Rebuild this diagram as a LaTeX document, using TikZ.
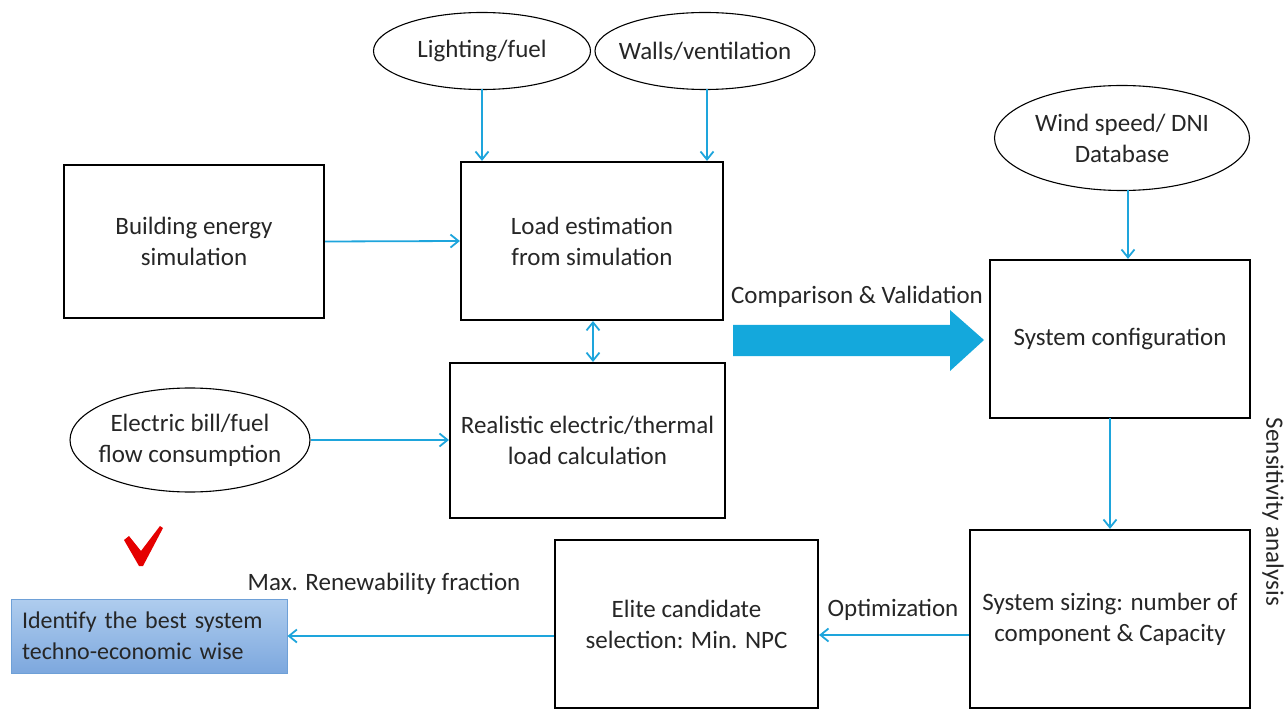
\documentclass[tikz,border=0pt]{standalone}
\usepackage{fontspec}
\setmainfont{Carlito}
\usetikzlibrary{shapes.geometric,arrows.meta}
\definecolor{arr}{RGB}{30,165,220}
\definecolor{bigarr}{RGB}{20,168,220}
\definecolor{bluetop}{RGB}{175,205,238}
\definecolor{bluebot}{RGB}{125,168,222}
\definecolor{blueedge}{RGB}{110,160,215}
\tikzset{
  box/.style={draw=black, line width=2.2pt, align=center, font=\fontsize{25}{31}\selectfont, inner sep=0pt, text=black!85},
  oval/.style={draw=black, ellipse, line width=1.1pt, align=center, font=\fontsize{25}{31}\selectfont, inner xsep=-60pt, inner ysep=-20pt, text=black!85},
  conn/.style={draw=arr, line width=1.8pt, -{Straight Barb[length=8pt,width=13pt,line width=1.8pt]}},
  lbl/.style={font=\fontsize{25}{31}\selectfont, inner sep=0pt, text=black!85},
}
\begin{document}
\begin{tikzpicture}[x=1pt,y=-1pt]
\useasboundingbox (0,0) rectangle (1288,711);
% ellipses
\node[oval, minimum width=217pt, minimum height=77pt] (light) at (482,51) {Lighting/fuel};
\node[oval, minimum width=220pt, minimum height=77pt] (walls) at (705,51) {Walls/ventilation};
\node[oval, minimum width=255pt, minimum height=105pt] (wind) at (1122,138) {Wind speed/ DNI\\Database};
\node[oval, minimum width=240pt, minimum height=104pt] (bill) at (190,440) {Electric bill/fuel\\flow consumption};
% boxes
\node[box, minimum width=262pt, minimum height=158pt] (load) at (592,241) {Load estimation\\from simulation};
\node[box, minimum width=260pt, minimum height=153pt] (bes) at (194,241.5) {Building energy\\simulation};
\node[box, minimum width=275pt, minimum height=155pt] (real) at (587.5,440.5) {Realistic electric/thermal\\load calculation};
\node[box, minimum width=260pt, minimum height=158pt] (conf) at (1120,339) {System configuration};
\node[box, minimum width=280pt, minimum height=178pt] (size) at (1110,619) {System sizing: number of\\component \& Capacity};
\node[box, minimum width=263pt, minimum height=168pt] (elite) at (686.5,624) {Elite candidate\\selection: Min. NPC};
\node[draw=blueedge, line width=1pt, top color=bluetop, bottom color=bluebot, minimum width=276pt, minimum height=74pt, inner xsep=11pt, inner ysep=0pt, text width=254pt, align=left, font=\fontsize{24}{31}\selectfont, text=black!85] (best) at (149,636) {Identify the best system\\techno-economic wise};
% connectors
\coordinate (l1) at (482,89.5);
\coordinate (w1) at (707,89.5);
\draw[conn] (l1) -- (l1 |- load.north);
\draw[conn] (w1) -- (w1 |- load.north);
\draw[conn] (bes.east) -- (load.west);
\draw[conn] (bill.east) -- (real.west |- bill.east);
\coordinate (d1) at (593,321);
\coordinate (d2) at (593,362);
\draw[draw=arr, line width=1.8pt, {Straight Barb[length=8pt,width=13pt,line width=1.8pt]}-{Straight Barb[length=8pt,width=13pt,line width=1.8pt]}] (d1) -- (d2);
\coordinate (wd) at (1128,190.5);
\draw[conn] (wd) -- (wd |- conf.north);
\coordinate (cs) at (1110,418);
\draw[conn] (cs) -- (cs |- size.north);
\coordinate (so) at (size.west |- 0,635);
\draw[conn] (so) -- (so -| elite.east);
\coordinate (eo) at (elite.west |- 0,636);
\draw[conn] (eo) -- (eo -| best.east);
% big arrow
\fill[bigarr] (733,325) -- (950,325) -- (950,310) -- (984,340) -- (950,371) -- (950,356) -- (733,356) -- cycle;
% labels
\node[lbl] (cv) at (857,297) {Comparison \& Validation};
\node[lbl] (opt) at (893,610) {Optimization};
\node[lbl] (maxr) at (384,584) {Max. Renewability fraction};
\node[lbl, rotate=-90] (sens) at (1273,512) {Sensitivity analysis};
% check mark
\fill[red!90!black] (124,540) -- (129,536) -- (141,551) -- (160,526) -- (163,528) -- (143,566) -- (139,566) -- cycle;
\end{tikzpicture}
\end{document}
